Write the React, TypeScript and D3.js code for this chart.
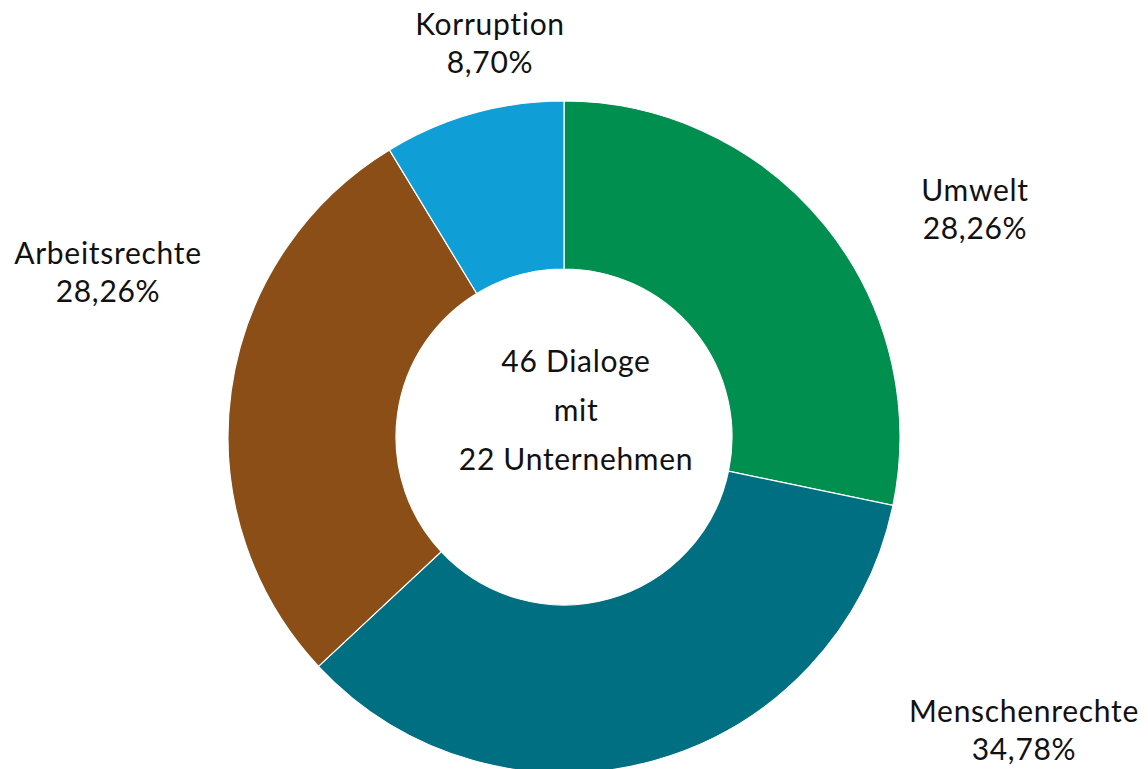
import React from "react";
import * as d3 from "d3";

const categories = ["Umwelt", "Menschenrechte", "Arbeitsrechte", "Korruption"];
const counts = [13, 16, 13, 4];
const percentLabels = ["28,26%", "34,78%", "28,26%", "8,70%"];
const colors = ["#008F4F", "#006F81", "#8B4E16", "#109ED7"];
const centerLines = ["46 Dialoge", "mit", "22 Unternehmen"];

// label anchor positions (layout, not data)
const labelPos: [number, number][] = [
  [975, 201],
  [1024, 722],
  [108, 264],
  [490, 35],
];

export default function App() {
  const W = 1148, H = 769;
  const cx = 564, cy = 437, R = 336, r = 168;
  const pie = d3.pie<number>().sort(null).value((d) => d)(counts);
  const arc = d3.arc<d3.PieArcDatum<number>>().innerRadius(r).outerRadius(R);
  const font = "Lato, 'Open Sans', sans-serif";
  const fs = 30;
  const ls = 0.7;
  return (
    <svg width={W} height={H} style={{ position: "absolute", left: 0, top: 0 }}>
      <rect width={W} height={H} fill="#fff" />
      <g transform={`translate(${cx},${cy})`}>
        {pie.map((p, i) => (
          <path key={i} d={arc(p) || ""} fill={colors[i]} stroke="#fff" strokeWidth={1.2} />
        ))}
        {centerLines.map((t, i) => (
          <text key={t} x={12} y={-65 + i * 49} textAnchor="middle" fontFamily={font} fontSize={fs} letterSpacing={ls} fill="#111">
            {t}
          </text>
        ))}
      </g>
      {categories.map((c, i) => (
        <g key={c}>
          <text x={labelPos[i][0]} y={labelPos[i][1]} textAnchor="middle" fontFamily={font} fontSize={fs} letterSpacing={ls} fill="#111">
            {c}
          </text>
          <text x={labelPos[i][0]} y={labelPos[i][1] + 38} textAnchor="middle" fontFamily={font} fontSize={fs} letterSpacing={ls} fill="#111">
            {percentLabels[i]}
          </text>
        </g>
      ))}
    </svg>
  );
}
